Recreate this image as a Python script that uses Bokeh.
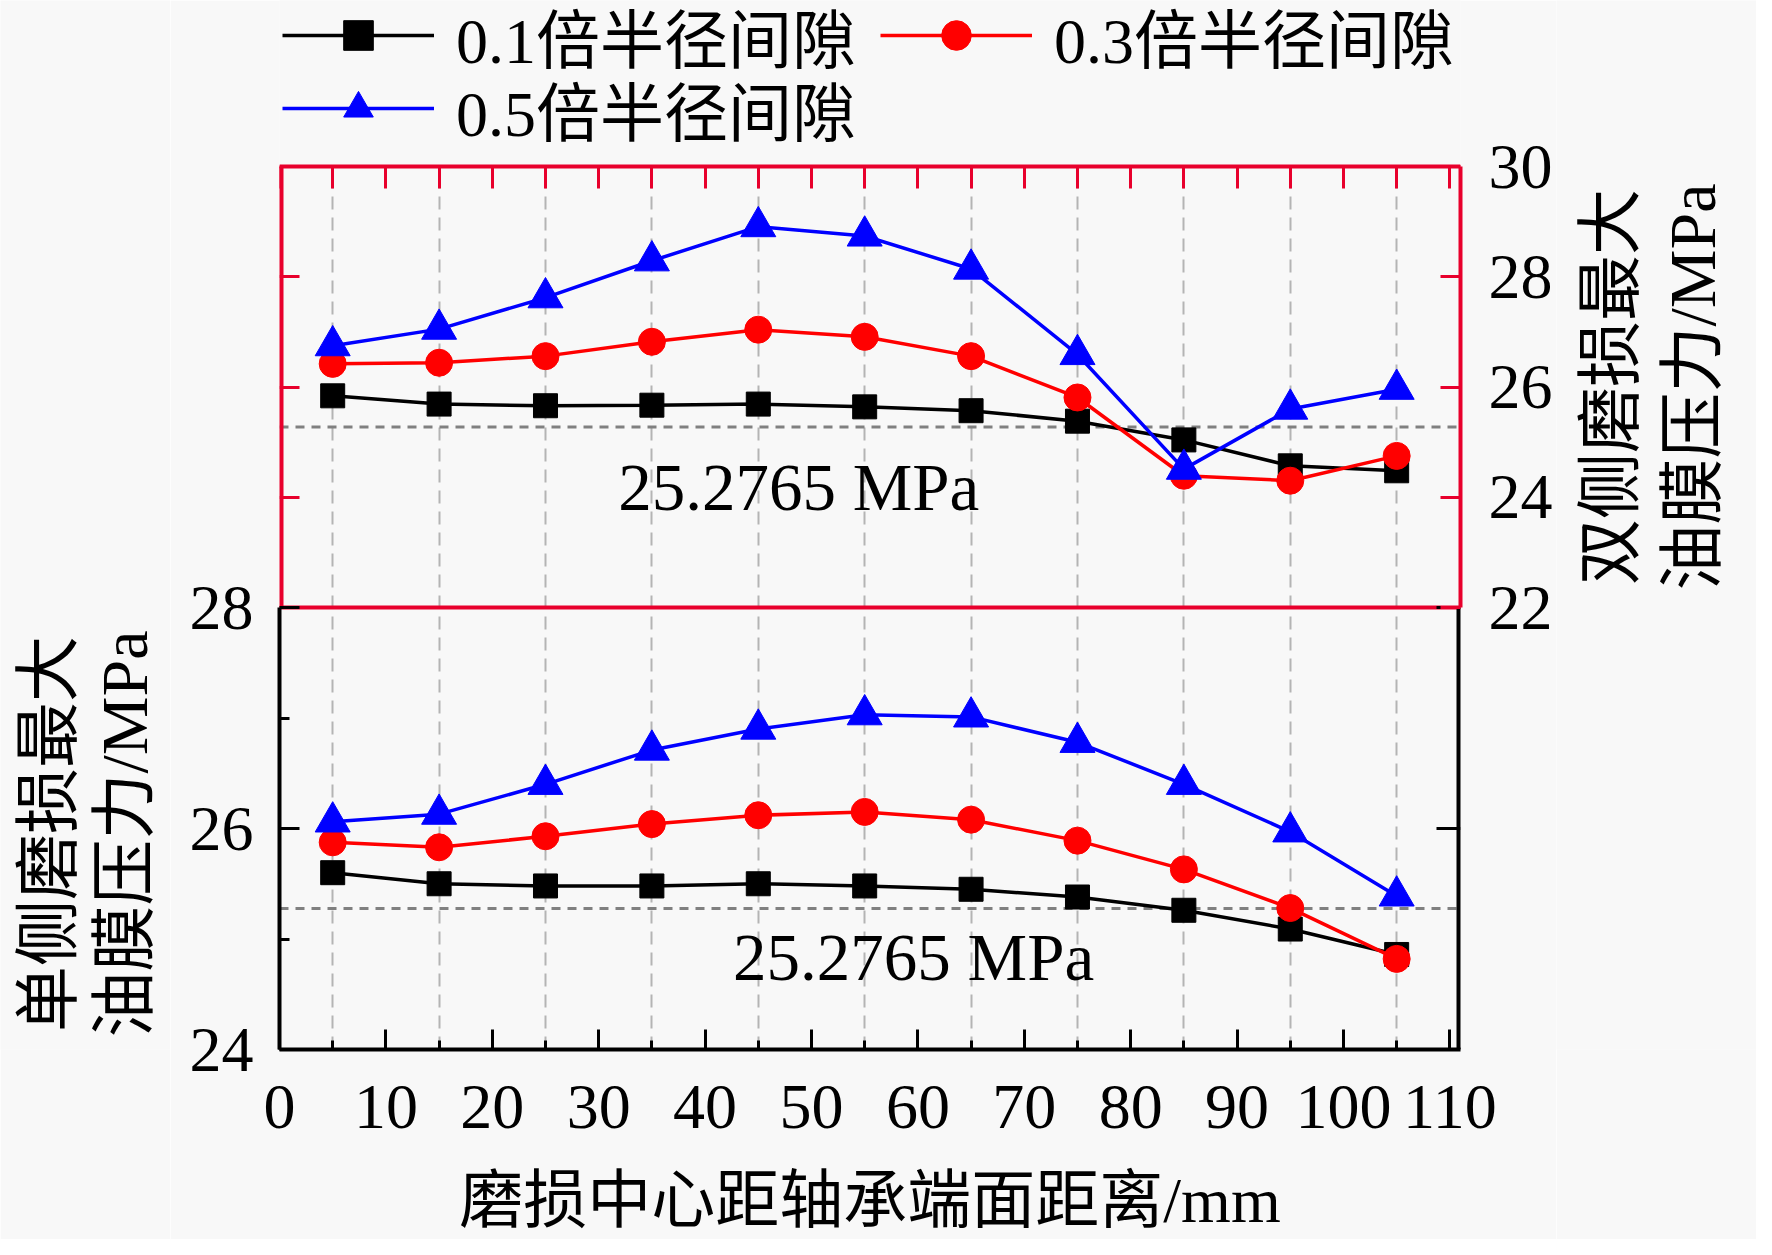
import math
from bokeh.plotting import figure
from bokeh.models import (Range1d, LinearAxis, FixedTicker, Span, Label, Legend,
                          LegendItem, Grid, BoxAnnotation)
from bokeh.layouts import row
from bokeh.embed import file_html
from bokeh.resources import INLINE

# ---------------- data ----------------
x_mm = [5, 15, 25, 35, 45, 55, 65, 75, 85, 95, 105]
series_names = ["0.1倍半径间隙", "0.3倍半径间隙", "0.5倍半径间隙"]

# double-side wear (top panel, right axis)
double_01 = [25.84, 25.69, 25.66, 25.67, 25.69, 25.64, 25.57, 25.38, 25.04, 24.57, 24.48]
double_03 = [26.42, 26.44, 26.56, 26.82, 27.04, 26.91, 26.56, 25.81, 24.39, 24.30, 24.75]
double_05 = [26.75, 27.05, 27.62, 28.29, 28.91, 28.74, 28.14, 26.59, 24.51, 25.60, 25.96]

# single-side wear (bottom panel, left axis)
single_01 = [25.60, 25.50, 25.48, 25.48, 25.50, 25.48, 25.45, 25.38, 25.26, 25.09, 24.86]
single_03 = [25.875, 25.83, 25.93, 26.04, 26.12, 26.15, 26.08, 25.89, 25.63, 25.28, 24.82]
single_05 = [26.06, 26.13, 26.40, 26.71, 26.90, 27.03, 27.01, 26.78, 26.40, 25.97, 25.39]

x_major = [0, 10, 20, 30, 40, 50, 60, 70, 80, 90, 100, 110]
x_minor = [5, 15, 25, 35, 45, 55, 65, 75, 85, 95, 105]
x_top_ticks = [0, 5, 10, 15, 20, 25, 30, 35, 40, 45, 50, 55, 60, 65, 70, 75, 80, 85, 90, 95, 100, 105, 110]
y_top_ticks = [22, 24, 26, 28, 30]
y_bot_ticks = [24, 26, 28]
y_bot_minor = [25, 27]
ref_pressure = 25.2765
ref_text = "25.2765 MPa"
x_title = "磨损中心距轴承端面距离/mm"
y_left_title_lines = ["单侧磨损最大", "油膜压力/MPa"]
y_right_title_lines = ["双侧磨损最大", "油膜压力/MPa"]

# ---------------- geometry / style ----------------
FONT = "Liberation Serif, Noto Sans CJK SC"
W, H = 1756, 1239
W_L, W_R = 170, 200                  # title strips
W_MAIN = W - W_L - W_R
FRAME_L, FRAME_R, FRAME_B = 279, 1460, 1049   # frame in page px (frame top = 0)
PANEL_TOP, PANEL_MID = 166, 607
PX_BOT = (FRAME_B - PANEL_MID) / 4.0          # px per MPa, bottom panel
PX_TOP = (PANEL_MID - PANEL_TOP) / 8.0        # px per MPa, top panel
FRAME_RED = "#E8002C"
BG = "#F8F8F8"
colors = ["#000000", "#FF0000", "#0000FF"]
markers = ["square", "circle", "triangle"]
msizes = [24, 27, 35]
LW = 3.5

y_bot_end = 24 + FRAME_B / PX_BOT
y_top_start = 22 - (FRAME_B - PANEL_MID) / PX_TOP
y_top_end = y_top_start + FRAME_B / PX_TOP


def bare_figure(**kw):
    p = figure(output_backend="svg", toolbar_location=None,
               x_axis_location=None, y_axis_location=None,
               background_fill_color=BG, border_fill_color=BG, **kw)
    p.outline_line_color = None
    p.xgrid.visible = False
    p.ygrid.visible = False
    return p


def style_axis(ax, color, tin=20, minor_in=0, labels=True, lw=4):
    ax.axis_line_color = color
    ax.axis_line_width = lw
    ax.major_tick_line_color = color
    ax.major_tick_line_width = 3
    ax.major_tick_in = tin
    ax.major_tick_out = 0
    ax.minor_tick_line_color = color
    ax.minor_tick_line_width = 3
    ax.minor_tick_in = minor_in
    ax.minor_tick_out = 0
    ax.major_label_text_font = FONT
    ax.major_label_text_font_size = "64px"
    ax.major_label_text_color = "black" if labels else None
    ax.axis_label_text_font = FONT
    ax.axis_label_text_font_size = "64px"
    ax.axis_label_text_font_style = "normal"
    ax.axis_label_text_color = "black"


# ---------------- main plot ----------------
y_bot_range = Range1d(24, y_bot_end)
y_top_range = Range1d(y_top_start, y_top_end)

main = bare_figure(width=W_MAIN, height=H, x_range=Range1d(0, 111), y_range=y_bot_range,
                   min_border_left=FRAME_L - W_L, min_border_right=(W - W_R) - FRAME_R,
                   min_border_top=0, min_border_bottom=H - FRAME_B)
main.extra_y_ranges = {"top": y_top_range}

main.add_layout(Grid(dimension=0, ticker=FixedTicker(ticks=x_minor),
                     grid_line_color="#B4B4B4", grid_line_width=2, grid_line_dash="13 8"))

# panel boundary + reference lines
main.add_layout(Span(location=28, dimension="width", line_color=FRAME_RED, line_width=4, level="underlay"))
main.add_layout(Span(location=ref_pressure, dimension="width", line_color="#808080",
                     line_dash="9 7", line_width=3, level="underlay"))
main.add_layout(Span(location=ref_pressure, dimension="width", y_range_name="top",
                     line_color="#808080", line_dash="9 7", line_width=3, level="underlay"))
# blank band above the top panel (legend area)
main.add_layout(BoxAnnotation(bottom=30, y_range_name="top", fill_color=BG, fill_alpha=1,
                              line_color=None, level="underlay"))

# left side
ax = LinearAxis(y_range_name="top", ticker=FixedTicker(ticks=y_top_ticks), bounds=(22, 30), fixed_location=0)
style_axis(ax, FRAME_RED, labels=False, lw=8)
main.add_layout(ax, "left")

ax = LinearAxis(ticker=FixedTicker(ticks=y_bot_ticks, minor_ticks=y_bot_minor), bounds=(24, 28))
style_axis(ax, "black", tin=20, minor_in=10)
ax.major_label_standoff = 26
main.add_layout(ax, "left")

# right side
ax = LinearAxis(ticker=FixedTicker(ticks=y_bot_ticks), bounds=(24, 28), fixed_location=111)
style_axis(ax, "black", tin=24, labels=False, lw=8)
main.add_layout(ax, "right")

ax = LinearAxis(y_range_name="top", ticker=FixedTicker(ticks=y_top_ticks), bounds=(22, 30))
style_axis(ax, FRAME_RED)
ax.major_label_standoff = 28
main.add_layout(ax, "right")

# bottom axis and red top edge
ax = LinearAxis(ticker=FixedTicker(ticks=x_major, minor_ticks=x_minor), axis_label=x_title)
style_axis(ax, "black", tin=20, minor_in=9)
ax.major_label_standoff = 36
ax.axis_label_standoff = 34
main.add_layout(ax, "below")

ax = LinearAxis(ticker=FixedTicker(ticks=x_top_ticks), y_range_name="top", fixed_location=30)
style_axis(ax, FRAME_RED, tin=22, labels=False)
main.add_layout(ax, "above")

# data
for ys, c, m, s in zip([single_01, single_03, single_05], colors, markers, msizes):
    main.line(x_mm, ys, line_color=c, line_width=LW)
    main.scatter(x_mm, ys, marker=m, size=s, fill_color=c, line_color=c)

items = []
for name, ys, c, m, s in zip(series_names, [double_01, double_03, double_05], colors, markers, msizes):
    lr = main.line(x_mm, ys, line_color=c, line_width=LW, y_range_name="top")
    sr = main.scatter(x_mm, ys, marker=m, size=s, fill_color=c, line_color=c, y_range_name="top")
    items.append(LegendItem(label=name, renderers=[lr, sr]))

main.add_layout(Label(x=48.8, y=24.19, y_range_name="top", text=ref_text, text_font=FONT,
                      text_font_size="67px", text_align="center", text_baseline="middle",
                      text_color="black"))
main.add_layout(Label(x=59.6, y=24.84, text=ref_text, text_font=FONT, text_font_size="67px",
                      text_align="center", text_baseline="middle", text_color="black"))

leg_kw = dict(orientation="horizontal", glyph_width=152, glyph_height=74, label_height=74,
              label_text_font=FONT, label_text_font_size="64px", label_text_color="black",
              label_standoff=22, spacing=24, padding=0, margin=0, border_line_color=None,
              background_fill_alpha=0)
main.add_layout(Legend(items=items[:2], location=(3, FRAME_B - 81), **leg_kw))
main.add_layout(Legend(items=items[2:], location=(3, FRAME_B - 154), **leg_kw))

# ---------------- title strips (same vertical borders as the main plot) ----------------
left_fig = bare_figure(width=W_L, height=H, x_range=Range1d(0, W_L), y_range=y_bot_range,
                       min_border_left=0, min_border_right=0,
                       min_border_top=0, min_border_bottom=H - FRAME_B)
for tx, line in zip([48, 124], y_left_title_lines):
    left_fig.add_layout(Label(x=tx, y=25.95, text=line, angle=math.pi / 2, angle_units="rad",
                              text_font=FONT, text_font_size="66px", text_align="center",
                              text_baseline="middle", text_color="black"))

right_fig = bare_figure(width=W_R, height=H, x_range=Range1d(0, W_R), y_range=y_top_range,
                        min_border_left=0, min_border_right=0,
                        min_border_top=0, min_border_bottom=H - FRAME_B)
for tx, line in zip([54, 136], y_right_title_lines):
    right_fig.add_layout(Label(x=tx, y=26.0, text=line, angle=math.pi / 2, angle_units="rad",
                               text_font=FONT, text_font_size="66px", text_align="center",
                               text_baseline="middle", text_color="black"))

layout = row(left_fig, main, right_fig, spacing=0)
open("out.html", "w").write(file_html(layout, INLINE))
